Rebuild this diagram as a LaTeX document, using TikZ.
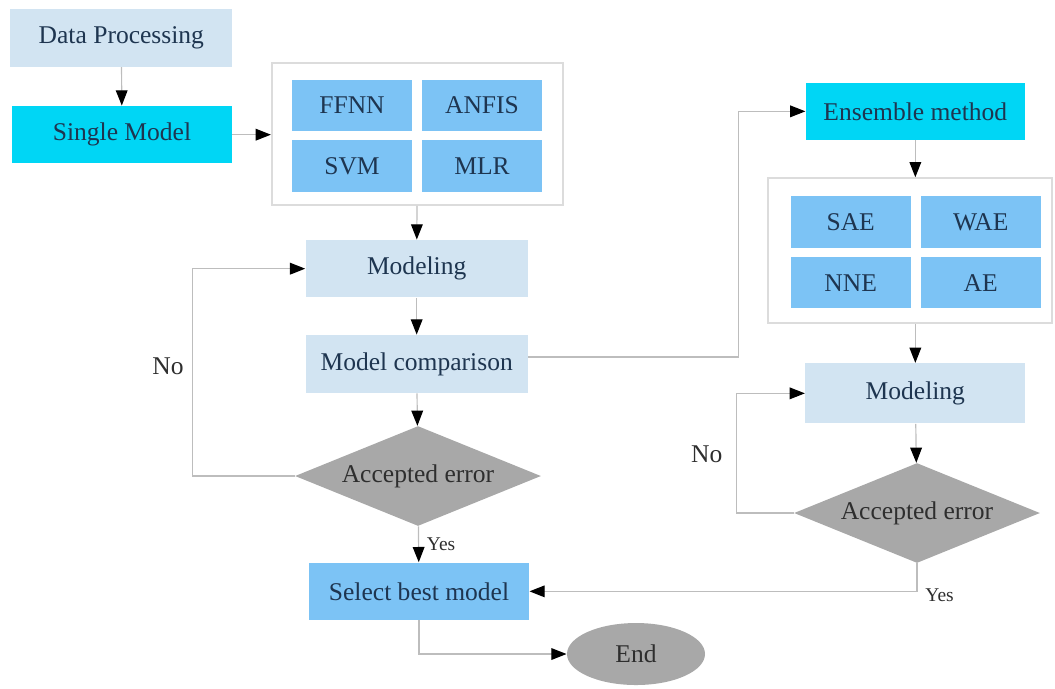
\documentclass[tikz,border=0pt]{standalone}
\usepackage{fontspec}
\setmainfont{Liberation Serif}
\usepackage{xcolor}
\usepackage{tikz}
\usetikzlibrary{positioning,arrows.meta,shapes.geometric}
\definecolor{boxlight}{HTML}{D2E4F2}
\definecolor{boxcyan}{HTML}{00D6F5}
\definecolor{boxmid}{HTML}{7CC3F5}
\definecolor{decgray}{HTML}{A8A8A8}
\definecolor{linegray}{HTML}{BDBDBD}
\definecolor{groupborder}{HTML}{DCDCDC}
\definecolor{boxtext}{HTML}{1E3550}
\definecolor{graytext}{HTML}{2E2E2E}

\begin{document}
\begin{tikzpicture}[font=\fontsize{10.9}{13}\selectfont,
  stagebox/.style={rectangle,inner sep=0pt,text=boxtext,
    minimum width=3.33cm,minimum height=0.86cm},
  lightbox/.style={stagebox,fill=boxlight},
  cyanbox/.style={stagebox,fill=boxcyan},
  methodbox/.style={rectangle,inner sep=0pt,fill=boxmid,text=boxtext,
    minimum width=1.8cm,minimum height=0.77cm},
  groupbox/.style={rectangle,draw=groupborder,line width=0.8pt,fill=white},
  decision/.style={diamond,aspect=2.46,inner sep=0pt,fill=decgray,text=graytext,
    minimum width=3.69cm,minimum height=1.5cm},
  flow/.style={draw=linegray,line width=0.5pt,
    -{Triangle[length=6.5pt,width=5pt,color=black]}},
  answer/.style={text=graytext}]

\useasboundingbox (0,0) rectangle (15.825,-10.32);

% single-model branch
\node[lightbox] (dataproc) at (1.82,-0.57) {Data Processing};
\node[cyanbox,minimum width=3.3cm] (single) at (1.83,-2.02) {Single Model};

\node[groupbox,minimum width=4.365cm,minimum height=2.13cm] (group1) at (6.26,-2.01) {};
\node[methodbox] (ffnn) at (5.28,-1.58) {FFNN};
\node[methodbox] (anfis) at (7.23,-1.58) {ANFIS};
\node[methodbox] (svm) at (5.28,-2.49) {SVM};
\node[methodbox] (mlr) at (7.23,-2.49) {MLR};

\node[lightbox] (model1) at (6.25,-4.03) {Modeling};
\node[lightbox,minimum height=0.87cm] (comp) at (6.25,-5.46) {Model comparison};
\node[decision] (dec1) at (6.27,-7.14) {Accepted error};
\node[stagebox,fill=boxmid,minimum width=3.3cm] (select) at (6.285,-8.87) {Select best model};
\node[ellipse,fill=decgray,text=graytext,inner sep=0pt,
      minimum width=2.07cm,minimum height=0.93cm] (endn) at (9.54,-9.81) {End};

% ensemble branch
\node[cyanbox,minimum width=3.285cm] (ensemble) at (13.73,-1.67) {Ensemble method};

\node[groupbox,minimum width=4.26cm,minimum height=2.175cm] (group2) at (13.65,-3.76) {};
\node[methodbox] (sae) at (12.76,-3.33) {SAE};
\node[methodbox] (wae) at (14.71,-3.33) {WAE};
\node[methodbox] (nne) at (12.76,-4.24) {NNE};
\node[methodbox] (ae) at (14.71,-4.24) {AE};

\node[lightbox,minimum width=3.3cm,minimum height=0.9cm] (model2) at (13.73,-5.9) {Modeling};
\node[decision] (dec2) at (13.755,-7.695) {Accepted error};

\node[answer] (no1) at (2.52,-5.5) {No};
\node[answer] (no2) at (10.6,-6.82) {No};

% connectors
\draw[flow] (dataproc) -- (single);
\draw[flow] (single) -- (single -| group1.west);
\draw[flow] (group1) -- (model1);
\draw[flow] (model1) -- (comp);
\draw[flow] (comp) -- (dec1);
\draw[flow] (dec1) -- node[pos=0.5,anchor=west,answer,font=\fontsize{8.3}{10}\selectfont] (yes1) {Yes} (select);
\draw[flow] (dec1.west) -- ++(-1.53,0) |- (model1.west);
\draw[flow] (select.south) |- (endn.west);

\draw[flow] ([yshift=3pt]comp.east) -- ++(3.15,0) |- (ensemble.west);
\draw[flow] (ensemble.south) -- (ensemble.south |- group2.north);
\draw[flow] (group2.south -| model2) -- (model2.north);
\draw[flow] (model2) -- (dec2);
\draw[flow] (dec2.west) -- ++(-0.855,0) |- (model2.west);
\draw[flow] (dec2.south) |- node[pos=0.3,anchor=north west,answer,
      font=\fontsize{8.3}{10}\selectfont] (yes2) {Yes} (select.east);

\end{tikzpicture}
\end{document}
